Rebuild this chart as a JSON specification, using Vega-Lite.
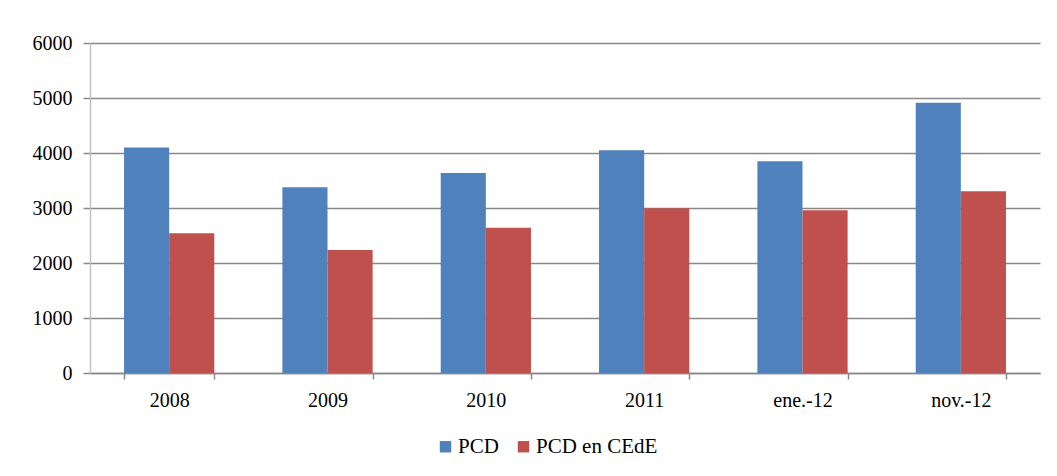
{
  "$schema": "https://vega.github.io/schema/vega-lite/v6.json",
  "width": 950,
  "height": 330,
  "autosize": "none",
  "padding": {"left": 90, "top": 43, "right": 17, "bottom": 103},
  "background": "white",
  "config": {
    "view": {"stroke": null},
    "font": "Liberation Serif",
    "axis": {"labelFont": "Liberation Serif", "labelColor": "black", "labelFontSize": 20},
    "legend": {"labelFont": "Liberation Serif", "labelColor": "black", "labelFontSize": 21}
  },
  "data": {
    "values": [
      {"periodo": "2008", "serie": "PCD", "valor": 4100},
      {"periodo": "2008", "serie": "PCD en CEdE", "valor": 2540},
      {"periodo": "2009", "serie": "PCD", "valor": 3376},
      {"periodo": "2009", "serie": "PCD en CEdE", "valor": 2236},
      {"periodo": "2010", "serie": "PCD", "valor": 3636},
      {"periodo": "2010", "serie": "PCD en CEdE", "valor": 2642},
      {"periodo": "2011", "serie": "PCD", "valor": 4049},
      {"periodo": "2011", "serie": "PCD en CEdE", "valor": 2994},
      {"periodo": "ene.-12", "serie": "PCD", "valor": 3849},
      {"periodo": "ene.-12", "serie": "PCD en CEdE", "valor": 2957},
      {"periodo": "nov.-12", "serie": "PCD", "valor": 4915},
      {"periodo": "nov.-12", "serie": "PCD en CEdE", "valor": 3303}
    ]
  },
  "mark": {"type": "bar"},
  "encoding": {
    "x": {
      "field": "periodo",
      "type": "nominal",
      "sort": ["2008", "2009", "2010", "2011", "ene.-12", "nov.-12"],
      "scale": {"paddingInner": 0.43, "paddingOuter": 0.215},
      "axis": {
        "title": null,
        "labelAngle": 0,
        "labelFont": "Liberation Serif",
        "labelFontSize": 20,
        "labelColor": "black",
        "tickBand": "extent",
        "tickSize": 6,
        "tickColor": "#888888",
        "tickWidth": 1.5,
        "domainColor": "#888888",
        "domainWidth": 1.5,
        "labelPadding": 11,
        "grid": false
      }
    },
    "xOffset": {
      "field": "serie",
      "type": "nominal",
      "sort": ["PCD", "PCD en CEdE"]
    },
    "y": {
      "field": "valor",
      "type": "quantitative",
      "scale": {"domain": [0, 6000], "nice": false},
      "axis": {
        "title": null,
        "format": "d",
        "labelFont": "Liberation Serif",
        "labelFontSize": 20,
        "labelColor": "black",
        "values": [0, 1000, 2000, 3000, 4000, 5000, 6000],
        "grid": true,
        "gridColor": "#888888",
        "gridWidth": 1.5,
        "domainColor": "#c0c0c0",
        "domainWidth": 1.5,
        "tickSize": 7,
        "tickColor": "#888888",
        "tickWidth": 1.5,
        "labelPadding": 11
      }
    },
    "color": {
      "field": "serie",
      "type": "nominal",
      "sort": ["PCD", "PCD en CEdE"],
      "scale": {"domain": ["PCD", "PCD en CEdE"], "range": ["#4F81BD", "#C0504D"]},
      "legend": {
        "title": null,
        "orient": "none",
        "direction": "horizontal",
        "legendX": 345,
        "legendY": 393,
        "padding": 0,
        "labelFont": "Liberation Serif",
        "labelFontSize": 21,
        "labelColor": "black",
        "symbolType": "square",
        "symbolSize": 130,
        "symbolStrokeWidth": 0,
        "labelOffset": 2,
        "columnPadding": 14
      }
    }
  }
}
